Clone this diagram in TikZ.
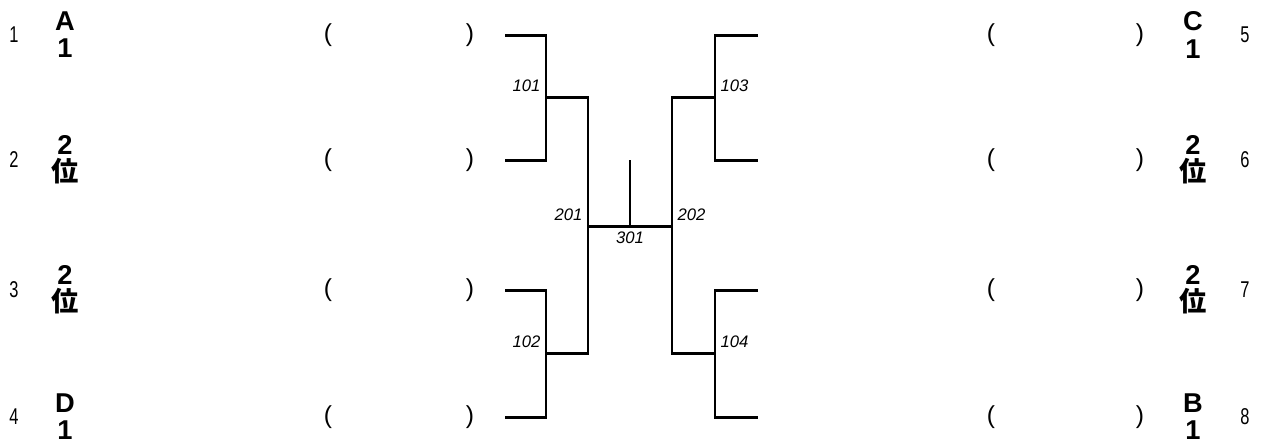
\documentclass[tikz,border=0pt]{standalone}
\usepackage{fontspec}
\setmainfont{Liberation Sans}
\newfontfamily\cjk{Noto Sans CJK JP}
\newfontfamily\narrow{Liberation Sans}[FakeStretch=0.72]
\begin{document}
\begin{tikzpicture}[
        x=0.02cm, y=-0.02cm,
        bracket/.style={line width=1.7pt},
        seed/.style={font=\narrow\fontsize{13}{14}\selectfont},
        team/.style={font=\bfseries\fontsize{15.5}{15.5}\selectfont, align=center},
        paren/.style={font=\fontsize{14}{16}\selectfont},
        game/.style={font=\itshape\fontsize{9.5}{11}\selectfont, inner sep=1pt}
    ]
        \useasboundingbox (0,0) rectangle (1262,441);
        % rows: seed numbers, team labels, brackets
        \foreach \y/\n/\l/\m/\r in {35/1/{A\\1}/5/{C\\1}, 160/2/{2\\{\cjk 位}}/6/{2\\{\cjk 位}},
                                    290/3/{2\\{\cjk 位}}/7/{2\\{\cjk 位}}, 417/4/{D\\1}/8/{B\\1}} {
            \node[seed] (seed\n) at (14,\y) {\n};
            \node[team] (team\n) at (65,\y) {\l};
            \node[paren] (lp\n) at (328,\y) {(};
            \node[paren] (rp\n) at (470,\y) {)};
            \coordinate (s\n) at (505,\y);
            \node[seed] (seed\m) at (1245,\y) {\m};
            \node[team] (team\m) at (1193,\y) {\r};
            \node[paren] (lp\m) at (991,\y) {(};
            \node[paren] (rp\m) at (1140,\y) {)};
            \coordinate (s\m) at (758,\y);
        }
        % match points
        \coordinate (m101) at (546,97);
        \coordinate (m102) at (546,353);
        \coordinate (m103) at (715,97);
        \coordinate (m104) at (715,353);
        \coordinate (m201) at (588,226);
        \coordinate (m202) at (672,226);
        \coordinate (m301) at (630,226);
        \coordinate (final) at (630,160);
        \draw[bracket] (s1) -| (m101) |- (s2);
        \draw[bracket] (s3) -| (m102) |- (s4);
        \draw[bracket] (s5) -| (m103) |- (s6);
        \draw[bracket] (s7) -| (m104) |- (s8);
        \draw[bracket] (m101) -| (m201) |- (m102);
        \draw[bracket] (m103) -| (m202) |- (m104);
        \draw[bracket] (m201) -- (m202);
        \draw[bracket] (m301) -- (final);
        % game numbers
        \node[game, above left=2pt] (g101) at (m101) {101};
        \node[game, above left=2pt] (g102) at (m102) {102};
        \node[game, above right=2pt] (g103) at (m103) {103};
        \node[game, above right=2pt] (g104) at (m104) {104};
        \node[game, above left=2pt] (g201) at (m201) {201};
        \node[game, above right=2pt] (g202) at (m202) {202};
        \node[game, below=2pt] (g301) at (m301) {301};
    \end{tikzpicture}
\end{document}
